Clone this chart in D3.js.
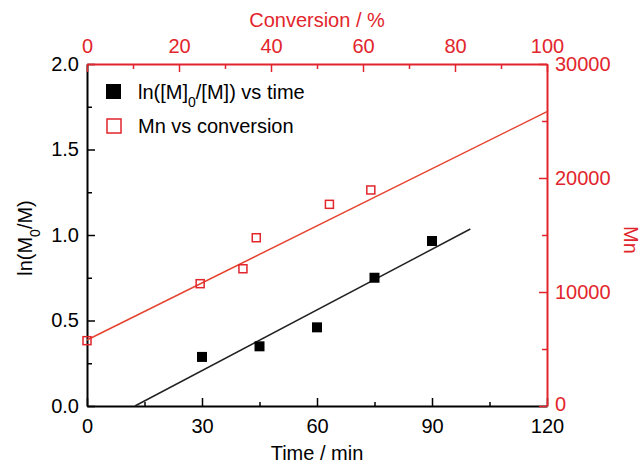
<!DOCTYPE html>
<html>
<head>
<meta charset="utf-8">
<script src="https://cdn.jsdelivr.net/npm/d3@7"></script>
<style>
  body { margin: 0; background: #fff; }
  text { font-family: Arial, "Liberation Sans", sans-serif; }
</style>
</head>
<body>
<svg id="chart" width="642" height="465"></svg>
<script>
// ln([M]0/[M]) vs time
const times = [30, 45, 60, 75, 90];
const lnVals = [0.287, 0.349, 0.46, 0.75, 0.965];
const lnFit = [[12.5, 0], [100, 1.035]];

// Mn vs conversion
const convs = [0, 24.6, 33.9, 36.8, 52.7, 61.7];
const mnVals = [5730, 10730, 12040, 14760, 17690, 18950];
const mnFit = [[0, 5790], [100, 25820]];

const timeTicks = [0, 30, 60, 90, 120];
const lnTicks = [0, 0.5, 1.0, 1.5, 2.0];
const convTicks = [0, 20, 40, 60, 80, 100];
const mnTicks = [0, 10000, 20000, 30000];

const red = "#e2252c";
const redLine = "#e6432f";
const fs = "20px";

const svg = d3.select("#chart");
const plotL = 87, plotR = 547, plotT = 64, plotB = 406;

const x = d3.scaleLinear().domain([0, 120]).range([plotL, plotR]);
const y = d3.scaleLinear().domain([0, 2]).range([plotB, plotT]);
const xc = d3.scaleLinear().domain([0, 100]).range([plotL, plotR]);
const ym = d3.scaleLinear().domain([0, 30000]).range([plotB, plotT]);

function styleAxis(g, color) {
    g.select(".domain").attr("stroke", color).attr("stroke-width", 2);
    g.selectAll(".tick line").attr("stroke", color).attr("stroke-width", 1.5);
    g.selectAll(".tick text").attr("fill", color).style("font-size", fs);
}

// minor ticks halfway between majors
const minor = (ticks) => d3.range(ticks.length - 1).map(i => (ticks[i] + ticks[i + 1]) / 2);

function minorAxis(g, color) {
    g.select(".domain").remove();
    g.selectAll("line").attr("stroke", color).attr("stroke-width", 1.5);
}

svg.append("g").attr("transform", `translate(0,${plotB})`)
    .call(d3.axisBottom(x).tickValues(minor(timeTicks)).tickSize(-4).tickFormat(""))
    .call(g => minorAxis(g, "#000"));
svg.append("g").attr("transform", `translate(${plotL},0)`)
    .call(d3.axisLeft(y).tickValues(minor(lnTicks)).tickSize(-5).tickFormat(""))
    .call(g => minorAxis(g, "#000"));
svg.append("g").attr("transform", `translate(0,${plotT})`)
    .call(d3.axisTop(xc).tickValues(minor(convTicks)).tickSize(-5).tickFormat(""))
    .call(g => minorAxis(g, red));
svg.append("g").attr("transform", `translate(${plotR},0)`)
    .call(d3.axisRight(ym).tickValues(minor(mnTicks)).tickSize(-5).tickFormat(""))
    .call(g => minorAxis(g, red));

// major axes
svg.append("g").attr("transform", `translate(0,${plotB})`)
    .call(d3.axisBottom(x).tickValues(timeTicks).tickSize(-8).tickSizeOuter(0).tickPadding(13).tickFormat(d3.format("d")))
    .call(g => styleAxis(g, "#000"));
svg.append("g").attr("transform", `translate(${plotL},0)`)
    .call(d3.axisLeft(y).tickValues(lnTicks).tickSize(-8).tickSizeOuter(0).tickPadding(8).tickFormat(d3.format(".1f")))
    .call(g => styleAxis(g, "#000"));
svg.append("g").attr("transform", `translate(0,${plotT})`)
    .call(d3.axisTop(xc).tickValues(convTicks).tickSize(-8).tickSizeOuter(0).tickPadding(11).tickFormat(d3.format("d")))
    .call(g => styleAxis(g, red));
svg.append("g").attr("transform", `translate(${plotR},0)`)
    .call(d3.axisRight(ym).tickValues(mnTicks).tickSize(-8).tickSizeOuter(0).tickPadding(8).tickFormat(d3.format("d")))
    .call(g => styleAxis(g, red))
    .call(g => g.selectAll(".tick text").filter(d => d === 0).attr("dy", "0.2em"));

// fit lines
svg.append("path")
    .attr("d", d3.line().x(d => x(d[0])).y(d => y(d[1]))(lnFit))
    .attr("stroke", "#222").attr("stroke-width", 1.5).attr("fill", "none");
svg.append("path")
    .attr("d", d3.line().x(d => xc(d[0])).y(d => ym(d[1]))(mnFit))
    .attr("stroke", redLine).attr("stroke-width", 1.5).attr("fill", "none");

// points
const sq = 10;
svg.append("g").selectAll("rect")
    .data(times.map((t, i) => [t, lnVals[i]]))
    .join("rect")
    .attr("x", d => x(d[0]) - sq / 2).attr("y", d => y(d[1]) - sq / 2)
    .attr("width", sq).attr("height", sq).attr("fill", "#000");

const osq = 8;
svg.append("g").selectAll("rect")
    .data(convs.map((c, i) => [c, mnVals[i]]))
    .join("rect")
    .attr("x", d => xc(d[0]) - osq / 2).attr("y", d => ym(d[1]) - osq / 2)
    .attr("width", osq).attr("height", osq)
    .attr("fill", "none").attr("stroke", red).attr("stroke-width", 1.5);

// axis titles
svg.append("text").attr("x", (plotL + plotR) / 2).attr("y", 27)
    .attr("text-anchor", "middle").attr("fill", red).style("font-size", fs)
    .text("Conversion / %");
svg.append("text").attr("x", (plotL + plotR) / 2).attr("y", 460)
    .attr("text-anchor", "middle").attr("fill", "#000").style("font-size", fs)
    .text("Time / min");

const yt = svg.append("text")
    .attr("transform", "translate(32,238) rotate(-90)")
    .attr("text-anchor", "middle").attr("fill", "#000").style("font-size", fs);
yt.append("tspan").text("ln(M");
yt.append("tspan").attr("baseline-shift", "sub").style("font-size", "14px").text("0");
yt.append("tspan").text("/M)");

svg.append("text")
    .attr("transform", "translate(624,240) rotate(90)")
    .attr("text-anchor", "middle").attr("fill", red).style("font-size", fs)
    .text("Mn");

// legend
const legend = svg.append("g");
legend.append("rect").attr("x", 106).attr("y", 84).attr("width", 15).attr("height", 15).attr("fill", "#000");
legend.append("rect").attr("x", 107).attr("y", 119).attr("width", 14).attr("height", 14)
    .attr("fill", "none").attr("stroke", red).attr("stroke-width", 1.5);

const l1 = legend.append("text").attr("x", 138).attr("y", 99).attr("fill", "#000").style("font-size", fs);
l1.append("tspan").text("ln([M]");
l1.append("tspan").attr("baseline-shift", "sub").style("font-size", "14px").text("0");
l1.append("tspan").text("/[M]) vs time");
legend.append("text").attr("x", 138).attr("y", 133).attr("fill", "#000").style("font-size", fs)
    .text("Mn vs conversion");
</script>
</body>
</html>
